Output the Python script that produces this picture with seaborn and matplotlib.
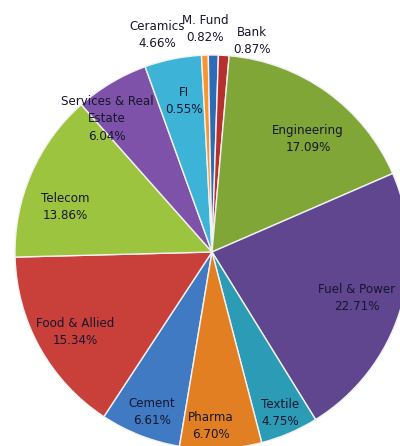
import matplotlib
matplotlib.use("Agg")
import matplotlib.pyplot as plt
import seaborn as sns

sns.set_theme(style="white")
plt.rcParams['font.family'] = ['DejaVu Sans']

# Slices in clockwise order, starting with Cement
sectors = ["Cement", "Food & Allied", "Telecom", "Services & Real\nEstate", "FI",
           "Ceramics", "M. Fund", "Bank", "Engineering", "Fuel & Power",
           "Textile", "Pharma"]
# slice sizes as drawn (%)
shares = [6.61, 15.34, 13.86, 6.04, 4.66, 0.55, 0.82, 0.87, 17.09, 22.71, 4.75, 6.70]
# percentages as printed in the labels
label_pct = ["6.61%", "15.34%", "13.86%", "6.04%", "0.55%", "4.66%", "0.82%",
             "0.87%", "17.09%", "22.71%", "4.75%", "6.70%"]
colors = ["#3F7AC2", "#C9403B", "#9CC43F", "#7E52A8", "#3DB3D8", "#F8952E",
          "#2E6BB5", "#B73030", "#7FA637", "#5F468F", "#2C9BB5", "#E27F22"]

# label centre positions (pixels in the 400x446 image)
label_px = [(152, 412), (75, 332), (65, 207), (107, 119), (184, 101), (157, 35),
            (205, 29), (252, 41), (308, 139), (357, 298), (280, 413), (211, 426)]

W, H = 400, 446
cx, cy, R = 212, 252, 197

fig = plt.figure(figsize=(W / 100, H / 100), dpi=100)
ax = fig.add_axes([(cx - R) / W, (H - cy - R) / H, 2 * R / W, 2 * R / H])
ax.pie(shares, colors=colors, startangle=260.5, counterclock=False, radius=1,
       wedgeprops=dict(edgecolor="#F2F2F2", linewidth=1.0))
ax.set_xlim(-1, 1)
ax.set_ylim(-1, 1)
ax.set_aspect("equal")
ax.axis("off")

for name, pct, (px, py) in zip(sectors, label_pct, label_px):
    x = (px - cx) / R
    y = (cy - py) / R
    ax.text(x, y, f"{name}\n{pct}", ha="center", va="center", fontsize=8.6,
            color="#16162E", linespacing=1.45, clip_on=False)

fig.savefig("out.png", dpi=100)
